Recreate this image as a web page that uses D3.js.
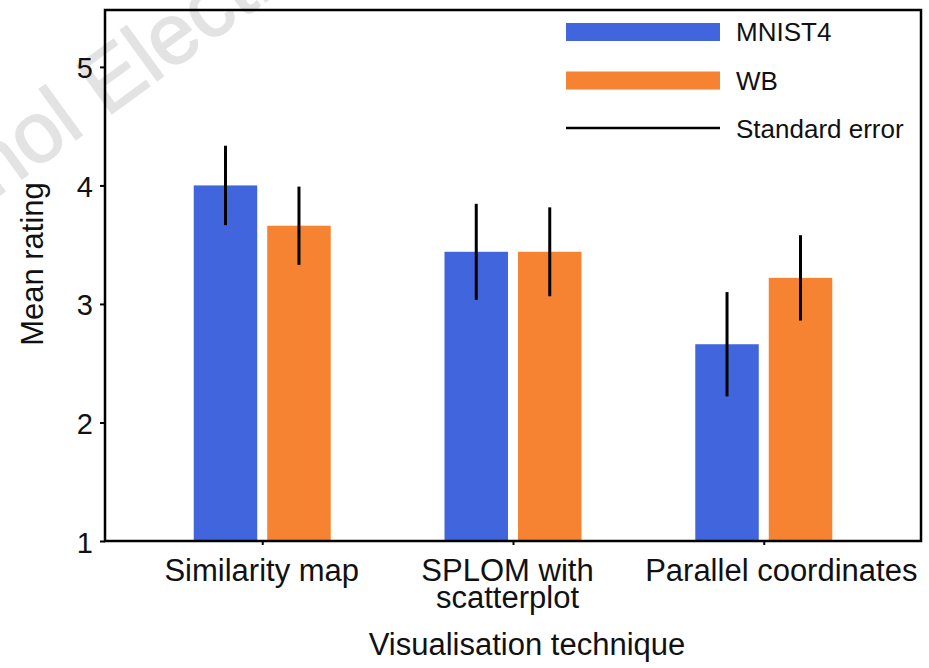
<!DOCTYPE html>
<html>
<head>
<meta charset="utf-8">
<script src="https://cdn.jsdelivr.net/npm/d3@7"></script>
<style>
  body { margin: 0; background: #fff; }
  svg { display: block; font-family: "Liberation Sans", Arial, sans-serif; }
</style>
</head>
<body>
<div id="chart"></div>
<script>
// data
const categories = ["Similarity map", "SPLOM with\nscatterplot", "Parallel coordinates"];
const seriesNames = ["MNIST4", "WB"];
const mnist4 = [4.0, 3.44, 2.66];
const mnist4Err = [0.335, 0.405, 0.44];
const wb = [3.66, 3.44, 3.22];
const wbErr = [0.33, 0.375, 0.36];
const yTicks = [1, 2, 3, 4, 5];

const width = 929;
const height = 668;
const plot = { left: 105, right: 921, top: 10, bottom: 541 };
const colors = { MNIST4: "#4165dc", WB: "#f58331" };
// the tick labels in the original sit a little off their ticks
const labelShift = [-1, -6, 17];

const svg = d3.select("#chart").append("svg")
  .attr("width", width)
  .attr("height", height);

// faint watermark behind the plot
svg.append("text")
  .attr("transform", "translate(-153,306) rotate(-36)")
  .attr("font-size", 86)
  .attr("fill", "#e3e3e3")
  .attr("stroke", "#e3e3e3")
  .attr("stroke-width", 1.5)
  .text("Technol Electronic");

// scales
const x = d3.scalePoint()
  .domain(categories)
  .range([plot.left, plot.right])
  .padding(0.627);

const xSub = d3.scaleBand()
  .domain(seriesNames)
  .range([-68.5, 68.5])
  .paddingInner(0.136);

const y = d3.scaleLinear()
  .domain([1, 5.48])
  .range([plot.bottom, plot.top]);

const rows = categories.map((c, i) => ({
  cat: c,
  values: [
    { key: "MNIST4", v: mnist4[i], e: mnist4Err[i] },
    { key: "WB", v: wb[i], e: wbErr[i] }
  ]
}));

// bars
const groups = svg.selectAll("g.group")
  .data(rows)
  .enter()
  .append("g")
  .attr("class", "group")
  .attr("transform", (d) => `translate(${x(d.cat)},0)`);

groups.selectAll("rect")
  .data((d) => d.values)
  .enter()
  .append("rect")
  .attr("x", (d) => xSub(d.key))
  .attr("width", xSub.bandwidth())
  .attr("y", (d) => y(d.v))
  .attr("height", (d) => y(1) - y(d.v))
  .attr("fill", (d) => colors[d.key]);

// error bars
groups.selectAll("line.err")
  .data((d) => d.values)
  .enter()
  .append("line")
  .attr("class", "err")
  .attr("x1", (d) => xSub(d.key) + xSub.bandwidth() / 2)
  .attr("x2", (d) => xSub(d.key) + xSub.bandwidth() / 2)
  .attr("y1", (d) => y(d.v + d.e))
  .attr("y2", (d) => y(d.v - d.e))
  .attr("stroke", "#000")
  .attr("stroke-width", 3);

// Y axis
const yAxis = svg.append("g")
  .attr("transform", `translate(${plot.left},0)`)
  .call(d3.axisLeft(y).tickValues(yTicks).tickSize(5).tickPadding(7).tickFormat(d3.format("d")));
yAxis.select(".domain").remove();
yAxis.selectAll(".tick line").attr("stroke-width", 2);
yAxis.selectAll(".tick text")
  .attr("font-size", 29)
  .attr("fill", "#111")
  .attr("dy", "0.38em");

// X axis
const xAxis = svg.append("g")
  .attr("transform", `translate(0,${plot.bottom})`)
  .call(d3.axisBottom(x).tickSize(4).tickFormat(""));
xAxis.select(".domain").remove();
xAxis.selectAll(".tick line").attr("stroke-width", 2);
xAxis.selectAll(".tick")
  .append("text")
  .attr("fill", "#111")
  .attr("font-size", 31)
  .attr("text-anchor", "middle")
  .attr("transform", (d, i) => `translate(${labelShift[i]},0)`)
  .selectAll("tspan")
  .data((d) => d.split("\n"))
  .enter()
  .append("tspan")
  .attr("x", 0)
  .attr("y", (d, i) => 40 + i * 27)
  .text((d) => d);

// frame
svg.append("rect")
  .attr("x", plot.left)
  .attr("y", plot.top)
  .attr("width", plot.right - plot.left)
  .attr("height", plot.bottom - plot.top)
  .attr("fill", "none")
  .attr("stroke", "#000")
  .attr("stroke-width", 2.5);

// axis titles
svg.append("text")
  .attr("x", 527)
  .attr("y", 655)
  .attr("text-anchor", "middle")
  .attr("font-size", 31)
  .attr("fill", "#111")
  .text("Visualisation technique");

svg.append("text")
  .attr("transform", "translate(43,264) rotate(-90)")
  .attr("text-anchor", "middle")
  .attr("font-size", 31)
  .attr("fill", "#111")
  .text("Mean rating");

// legend
const legendItems = [
  { label: "MNIST4", type: "bar", color: colors.MNIST4 },
  { label: "WB", type: "bar", color: colors.WB },
  { label: "Standard error", type: "line", color: "#000" }
];
const legend = svg.append("g").attr("transform", "translate(566,32)");
const li = legend.selectAll("g")
  .data(legendItems)
  .enter()
  .append("g")
  .attr("transform", (d, i) => `translate(0,${i * 48.5})`);
li.filter((d) => d.type === "bar")
  .append("rect")
  .attr("x", 0)
  .attr("y", -9)
  .attr("width", 154)
  .attr("height", 18)
  .attr("fill", (d) => d.color);
li.filter((d) => d.type === "line")
  .append("line")
  .attr("x1", 0)
  .attr("x2", 154)
  .attr("y1", -1)
  .attr("y2", -1)
  .attr("stroke", "#000")
  .attr("stroke-width", 2.5);
li.append("text")
  .attr("x", 170)
  .attr("y", 9)
  .attr("font-size", 26)
  .attr("fill", "#111")
  .text((d) => d.label);
</script>
</body>
</html>
